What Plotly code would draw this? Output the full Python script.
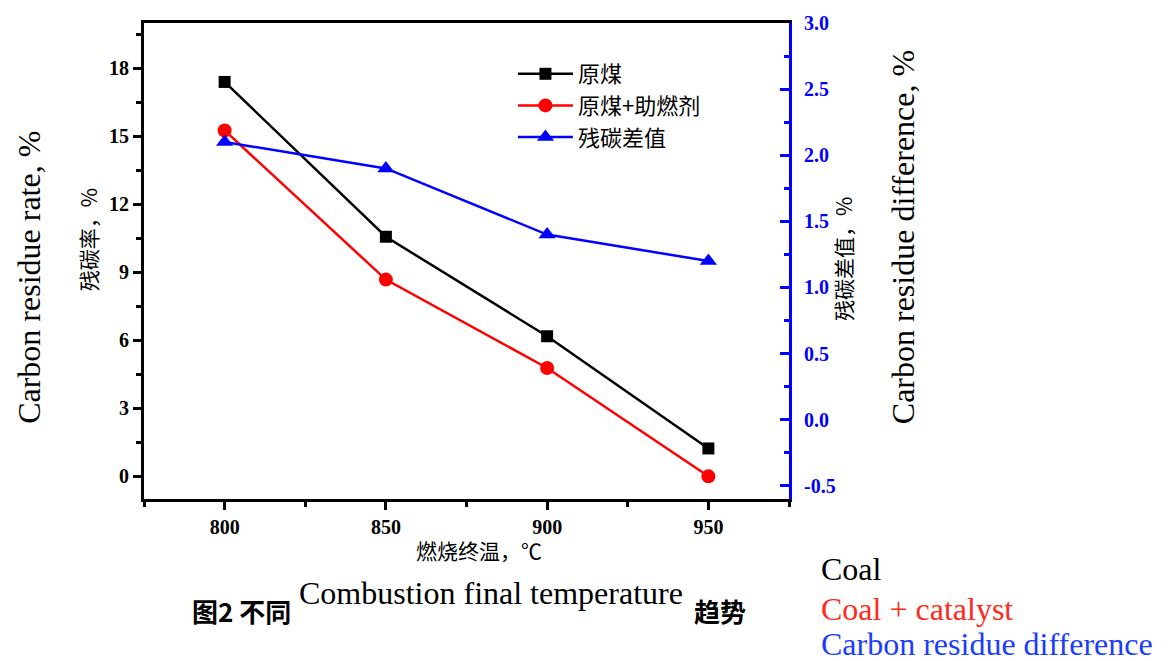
import plotly.graph_objects as go

temps = [800, 850, 900, 950]
coal = [17.4, 10.57, 6.18, 1.23]
coal_cat = [15.26, 8.68, 4.78, 0.0]
diff = [2.1, 1.9, 1.4, 1.2]

y2_ticks = [-0.5, 0.0, 0.5, 1.0, 1.5, 2.0, 2.5, 3.0]
y2_labels = ["-0.5", "0.0", "0.5", "1.0", "1.5", "2.0", "2.5", "3.0"]

names_cn = ["原煤", "原煤+助燃剂", "残碳差值"]
names_en = ["Coal", "Coal + catalyst", "Carbon residue difference"]

SERIF = "Liberation Serif"
CJK = "Noto Sans CJK SC"
BLUE = "#0000ff"
RED = "#ff0000"

fig = go.Figure()
fig.add_trace(go.Scatter(x=temps, y=coal, name=names_cn[0], mode="lines+markers",
                         line=dict(color="black", width=2.5),
                         marker=dict(symbol="square", size=12, color="black")))
fig.add_trace(go.Scatter(x=temps, y=coal_cat, name=names_cn[1], mode="lines+markers",
                         line=dict(color=RED, width=2.5),
                         marker=dict(symbol="circle", size=14, color=RED)))
fig.add_trace(go.Scatter(x=temps, y=diff, name=names_cn[2], mode="lines+markers", yaxis="y2",
                         line=dict(color=BLUE, width=2.5),
                         marker=dict(symbol="triangle-up", size=15, color=BLUE)))

tickfont = dict(family=SERIF, size=20, color="black", weight=700)

fig.update_layout(
    width=1170, height=661,
    margin=dict(l=144, r=381, t=19, b=162),
    paper_bgcolor="white", plot_bgcolor="white",
    showlegend=True,
    legend=dict(x=0.572, y=0.937, xanchor="left", yanchor="top",
                font=dict(family=CJK, size=22, color="black"),
                bgcolor="rgba(0,0,0,0)", tracegroupgap=0, itemwidth=55),
    xaxis=dict(range=[775, 975], tickvals=temps, ticktext=[str(t) for t in temps],
               ticks="outside", ticklen=8, tickwidth=2.5, tickcolor="black",
               minor=dict(dtick=25, tick0=775, ticks="outside", ticklen=5, tickwidth=2.5, tickcolor="black"),
               showline=True, linewidth=3, linecolor="black", mirror=True,
               showgrid=False, zeroline=False, tickfont=tickfont),
    yaxis=dict(range=[-1, 20], tick0=0, dtick=3,
               ticks="outside", ticklen=8, tickwidth=2.5, tickcolor="black",
               minor=dict(dtick=1.5, tick0=0, ticks="outside", ticklen=5, tickwidth=2.5, tickcolor="black"),
               showline=True, linewidth=3, linecolor="black",
               showgrid=False, zeroline=False, tickfont=tickfont),
    yaxis2=dict(range=[-0.6, 3.0], tickvals=y2_ticks, ticktext=y2_labels,
                overlaying="y", side="right", anchor="x",
                ticks="inside", ticklen=9, tickwidth=2.5, tickcolor=BLUE,
                minor=dict(dtick=0.25, tick0=0, ticks="inside", ticklen=5, tickwidth=2.5, tickcolor=BLUE),
                showline=True, linewidth=3, linecolor=BLUE,
                showgrid=False, zeroline=False, ticklabelstandoff=8,
                tickfont=dict(family=SERIF, size=20, color=BLUE, weight=700)),
)

ann = []
def A(text, x, y, size, color="black", family=SERIF, angle=0, weight="normal", xanchor="center"):
    ann.append(dict(text=text, x=x, y=y, xref="paper", yref="paper", showarrow=False,
                    font=dict(family=family, size=size, color=color, weight=weight),
                    textangle=angle, xanchor=xanchor, yanchor="middle"))

PL, PR, PT, PB = 144, 789, 19, 499
def px(x):
    return (x - PL) / (PR - PL)
def py(y):
    return (PB - y) / (PB - PT)

A("Carbon residue rate, %", px(29), py(275), 32, angle=-90)
A("残碳率，%", px(88), py(238), 21, family=CJK, angle=-90)
A("残碳差值，%", px(843), py(257), 21, family=CJK, angle=-90)
A("Carbon residue difference, %", px(903), py(235), 32, angle=-90)
A("燃烧终温，℃", px(479), py(550), 21, family=CJK)
A("图2 不同", px(190), py(611), 26, family=CJK, weight="bold", xanchor="left")
A("趋势", px(692), py(611), 26, family=CJK, weight="bold", xanchor="left")
A("Combustion final temperature", px(491), py(594), 32)
A(names_en[0], px(819), py(570), 32, xanchor="left")
A(names_en[1], px(819), py(610), 32, color="#ff2a1a", xanchor="left")
A(names_en[2], px(819), py(645), 32, color="#1a3cff", xanchor="left")
fig.update_layout(annotations=ann)

fig.write_html("out.html")
